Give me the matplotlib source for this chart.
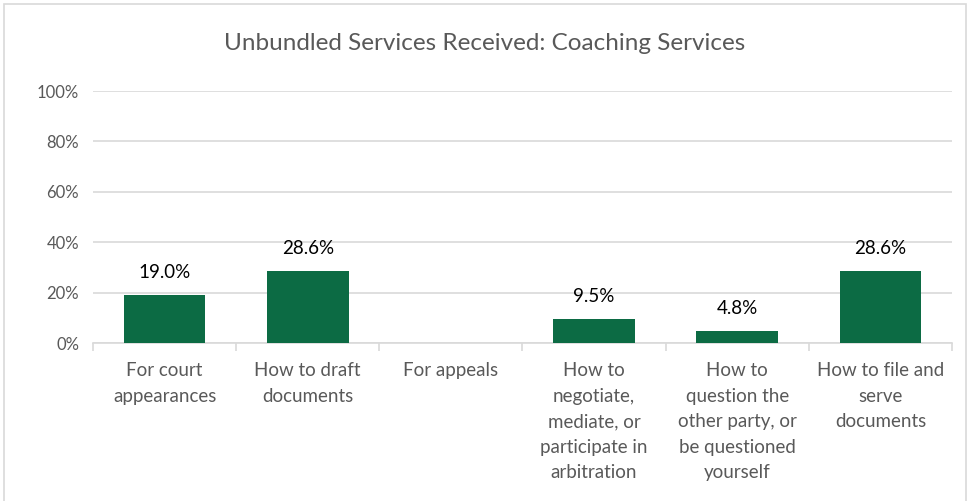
import matplotlib.pyplot as plt
from matplotlib.patches import Rectangle
from matplotlib.ticker import FixedLocator, NullFormatter

categories = [
    "For court\nappearances",
    "How to draft\ndocuments",
    "For appeals",
    "How to\nnegotiate,\nmediate, or\nparticipate in\narbitration",
    "How to\nquestion the\nother party, or\nbe questioned\nyourself",
    "How to file and\nserve\ndocuments",
]
values = [19.0, 28.6, 0.0, 9.5, 4.8, 28.6]
yticks = [0, 20, 40, 60, 80, 100]

bar_color = "#0C6B44"
grid_color = "#D9D9D9"
text_gray = "#595959"

plt.rcParams["font.family"] = ["Lato", "DejaVu Sans"]

fig = plt.figure(figsize=(9.7, 5.01), dpi=100)
ax = fig.add_axes([93 / 970, 1 - 343 / 501, (952 - 93) / 970, (343 - 91) / 501])

# outer chart frame
fig.patches.append(Rectangle((4 / 970, -0.01), 962 / 970, 1 - 4 / 501 + 0.01,
                             transform=fig.transFigure, fill=False,
                             edgecolor=grid_color, linewidth=1.2))

x = list(range(len(categories)))
bars = ax.bar(x, values, width=0.57, color=bar_color, zorder=3)

# value labels above bars (empty bar gets none)
for xi, v in zip(x, values):
    if v > 0:
        ax.annotate(f"{v:.1f}%", (xi, v), xytext=(0, 12), textcoords="offset points",
                    ha="center", va="baseline", fontsize=13.5, color="black")

ax.set_xlim(-0.5, len(categories) - 0.5)
ax.set_ylim(0, 100)
ax.set_yticks(yticks)
ax.set_yticklabels([f"{t}%" for t in yticks], fontsize=12, color=text_gray)
ax.yaxis.grid(True, color=grid_color, linewidth=1.2, zorder=0)
ax.tick_params(axis="y", length=0, pad=10)

# category labels centred, tick marks at category boundaries
ax.set_xticks(x)
ax.set_xticklabels(categories, fontsize=13.5, color=text_gray, linespacing=1.6)
ax.tick_params(axis="x", which="major", length=0, pad=14)
ax.xaxis.set_minor_locator(FixedLocator([i - 0.5 for i in range(len(categories) + 1)]))
ax.xaxis.set_minor_formatter(NullFormatter())
ax.tick_params(axis="x", which="minor", length=6, color=grid_color, width=1.2)

for s in ["top", "right", "left"]:
    ax.spines[s].set_visible(False)
ax.spines["bottom"].set_color(grid_color)
ax.spines["bottom"].set_linewidth(1.2)

fig.text(0.5, 1 - 44 / 501, "Unbundled Services Received: Coaching Services",
         ha="center", va="center", fontsize=17.5, color=text_gray)

fig.savefig("out.png", dpi=100)
